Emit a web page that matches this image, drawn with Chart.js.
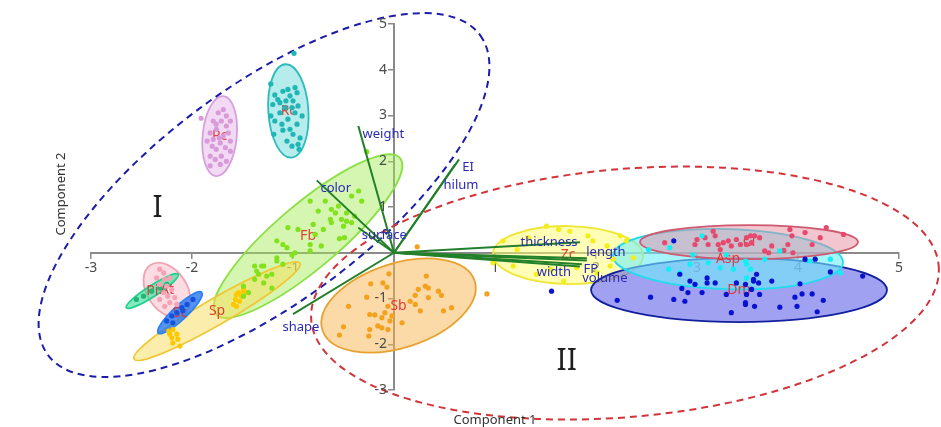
<!DOCTYPE html>
<html>
<head>
<meta charset="utf-8">
<script src="https://cdn.jsdelivr.net/npm/chart.js@4/dist/chart.umd.min.js"></script>
<style>
  html, body { margin: 0; padding: 0; background: #fff; }
  #wrap { width: 941px; height: 427px; }
</style>
</head>
<body>
<div id="wrap"><canvas id="biplot" width="941" height="427"></canvas></div>
<script>
// ---- axes ----
const xTicks = [-3, -2, -1, 0, 1, 2, 3, 4, 5];
const xTickLabels = ['-3', '-2', '-1', '', '1', '2', '3', '4', '5'];
const yTicks = [-3, -2, -1, 0, 1, 2, 3, 4, 5];
const yTickLabels = ['-3', '-2', '-1', '', '1', '2', '3', '4', '5'];
const axisTitles = ['Component 1', 'Component 2'];

// ---- species scores (Component 1, Component 2) ----
const pointsPc = [[-1.91,2.94],[-1.69,3.13],[-1.74,3.06],[-1.66,2.99],[-1.79,2.88],[-1.71,2.88],[-1.62,2.88],[-1.66,2.77],[-1.76,2.70],[-1.82,2.62],[-1.64,2.62],[-1.69,2.55],[-1.79,2.48],[-1.62,2.44],[-1.72,2.40],[-1.80,2.33],[-1.67,2.30],[-1.76,2.26],[-1.62,2.22],[-1.82,2.11],[-1.71,2.11],[-1.77,2.04],[-1.66,2.00],[-1.82,1.90],[-1.72,1.93],[-1.73,2.51],[-1.85,2.44],[-1.76,2.81]];
const pointsRc = [[-0.99,4.36],[-1.22,3.69],[-1.18,3.45],[-1.10,3.53],[-1.05,3.57],[-0.98,3.61],[-0.96,3.50],[-1.03,3.43],[-1.00,3.32],[-1.07,3.32],[-1.13,3.28],[-1.20,3.24],[-0.95,3.21],[-1.08,3.17],[-1.13,3.06],[-0.98,3.06],[-0.91,2.99],[-1.05,2.92],[-1.18,2.88],[-1.11,2.81],[-0.96,2.81],[-1.03,2.70],[-1.10,2.68],[-1.19,2.59],[-1.00,2.59],[-0.93,2.51],[-1.06,2.44],[-0.95,2.37],[-1.01,2.33],[-0.94,2.26],[-1.22,2.99],[-1.15,3.35],[-1.01,3.17]];
const pointsFb = [[-0.35,1.35],[-0.42,1.24],[-0.32,1.13],[-0.68,1.13],[-0.83,1.13],[-0.55,1.02],[-0.62,0.95],[-0.58,0.87],[-0.75,0.91],[-0.47,0.87],[-0.39,0.80],[-0.63,0.73],[-0.62,0.66],[-0.52,0.73],[-0.42,0.66],[-0.80,0.62],[-0.50,0.58],[-1.05,0.55],[-0.95,0.51],[-0.70,0.51],[-0.78,0.40],[-0.49,0.33],[-0.54,0.31],[-1.16,0.26],[-1.10,0.18],[-0.72,0.15],[-0.83,0.18],[-1.06,0.11],[-0.83,0.04],[-0.98,0.00],[-1.16,-0.11],[-1.38,-0.29],[-1.29,-0.29],[-1.21,-0.47],[-1.34,-0.47],[-1.29,-0.66],[-1.21,-0.77],[-1.38,-0.58],[-0.47,0.69],[-1.16,-0.18],[-1.10,-0.25],[-1.31,-0.29],[-1.36,-0.40],[-1.26,-0.51],[-1.49,-0.73],[-1.44,-0.87],[-1.49,-0.95],[-0.27,2.21],[-1.01,-0.05]];
const pointsAt = [[-2.32,-0.36],[-2.28,-0.44],[-2.35,-0.55],[-2.27,-0.58],[-2.22,-0.55],[-2.32,-0.69],[-2.25,-0.73],[-2.20,-0.80],[-2.28,-0.87],[-2.24,-0.95],[-2.17,-0.98],[-2.32,-1.02],[-2.22,-1.09],[-2.15,-1.13],[-2.27,-1.17]];
const pointsPi = [[-2.55,-1.02],[-2.48,-0.95],[-2.40,-0.84],[-2.32,-0.77],[-2.25,-0.69]];
const pointsSc = [[-2.25,-1.49],[-2.20,-1.38],[-2.15,-1.31],[-2.10,-1.20],[-2.05,-1.13],[-1.99,-1.02],[-2.19,-1.53],[-2.09,-1.27]];
const pointsSp = [[-2.23,-1.71],[-2.19,-1.68],[-2.15,-1.78],[-2.20,-1.86],[-2.14,-1.89],[-2.19,-1.97],[-2.12,-2.04],[-2.22,-1.78],[-1.54,-0.87],[-1.51,-0.95],[-1.57,-1.02],[-1.53,-1.06],[-1.56,-1.17],[-1.49,-0.84],[-1.59,-1.13],[-1.56,-0.91],[-1.49,-0.80],[-1.46,-0.87]];
const pointsSb = [[0.23,0.13],[-0.05,-0.46],[0.32,-0.51],[-0.23,-0.68],[-0.11,-0.66],[-0.07,-0.75],[0.31,-0.73],[0.34,-0.77],[0.24,-0.80],[0.44,-0.84],[0.21,-0.93],[0.47,-0.93],[-0.27,-0.97],[0.34,-0.98],[0.16,-1.06],[0.21,-1.13],[-0.45,-1.17],[0.57,-1.20],[-0.06,-1.17],[0.26,-1.27],[0.49,-1.27],[-0.24,-1.35],[-0.19,-1.36],[-0.09,-1.31],[-0.02,-1.38],[-0.04,-1.49],[-0.12,-1.42],[0.08,-1.53],[-0.16,-1.60],[-0.24,-1.68],[-0.12,-1.64],[-0.06,-1.68],[-0.50,-1.62],[-0.54,-1.80],[-0.25,-1.82],[0.92,-0.90]];
const pointsZc = [[1.08,0.26],[1.22,0.07],[1.33,0.33],[1.63,0.51],[1.74,0.47],[1.92,0.37],[1.97,0.26],[2.11,0.15],[2.17,-0.14],[2.24,0.37],[2.30,0.26],[2.37,-0.11],[1.18,-0.29],[1.41,-0.47],[1.55,-0.36],[1.81,-0.33],[2.01,-0.44],[2.14,-0.29],[1.68,-0.62],[0.98,-0.22],[1.51,0.58]];
const pointsCl = [[2.68,0.22],[2.98,0.18],[3.08,0.33],[3.16,0.47],[3.18,0.37],[3.11,0.18],[3.21,0.18],[3.26,0.22],[3.31,0.26],[3.34,0.15],[3.23,0.07],[3.39,0.29],[3.43,0.18],[3.49,0.33],[3.54,0.22],[3.57,0.37],[3.00,0.29],[3.92,0.51],[3.94,0.37],[4.07,0.44],[4.22,0.33],[4.28,0.55],[4.45,0.40],[4.14,0.18],[3.90,0.18],[3.86,0.05],[3.74,0.15],[3.67,0.04],[3.62,0.33],[3.53,0.37],[3.49,0.18],[3.71,0.00],[3.95,0.00]];
const pointsAsp = [[2.52,0.07],[2.73,0.11],[2.72,-0.36],[2.83,-0.44],[2.96,-0.04],[3.11,-0.22],[3.23,-0.33],[3.29,-0.04],[3.36,-0.36],[3.48,-0.18],[3.53,-0.36],[3.05,0.37],[2.93,-0.25],[3.49,-0.25],[3.67,-0.14],[3.49,-0.55],[4.12,-0.18],[4.32,-0.14],[4.42,-0.44],[3.82,0.04]];
const pointsDm = [[2.21,-1.04],[2.54,-0.97],[2.77,-1.02],[2.88,-1.06],[2.85,-0.78],[2.91,-0.87],[2.93,-0.62],[2.98,-0.69],[3.05,-0.87],[3.10,-0.55],[3.10,-0.66],[3.18,-0.66],[2.83,-0.47],[3.29,-0.91],[3.34,-1.31],[3.39,-0.66],[3.49,-0.91],[3.54,-0.80],[3.56,-0.58],[3.48,-1.09],[3.57,-1.17],[2.77,0.26],[3.48,-0.69],[3.56,-0.62],[3.59,-0.47],[3.61,-0.66],[3.54,-0.80],[3.62,-0.91],[3.74,-0.62],[3.48,-1.13],[3.82,-1.19],[3.97,-0.97],[4.04,-0.90],[4.02,-0.68],[4.14,-0.90],[4.25,-1.04],[3.99,-1.17],[4.19,-1.29],[4.32,-0.42],[4.07,-0.14],[4.17,-0.14],[4.64,-0.51],[1.56,-0.84]];

// ---- 95% ellipses: centre, and two conjugate semi-axes (in axis units) ----
const groupNames = ['Fb', 'Sp', 'At', 'Pi', 'Sc', 'Pc', 'Rc', 'Sb', 'Zc', 'Dm', 'Asp', 'Cl'];
const ellipseCenter = [[-0.851,0.365],[-1.752,-1.276],[-2.248,-0.815],[-2.393,-0.837],[-2.119,-1.311],[-1.726,2.55],[-1.046,3.10],[0.045,-1.154],[1.723,-0.05],[3.416,-0.816],[3.307,-0.138],[3.515,0.234]];
const ellipseAxisA = [[0.911,1.705],[0.822,1.049],[0.163,-0.546],[0.257,0.365],[0.215,0.444],[0.037,0.874],[-0.03,1.02],[0.753,0.540],[0.743,-0.02],[1.465,0],[1.139,-0.077],[1.079,0]];
const ellipseAxisB = [[0.205,-0.533],[0.064,-0.247],[0.165,0.240],[0.030,-0.101],[0.0475,-0.111],[0.168,-0.035],[0.198,0.028],[0.129,-0.874],[0,-0.634],[0,-0.70],[-0.009,-0.656],[0,-0.372]];

// ---- cluster regions I and II ----
const regionNames = ['I', 'II'];
const regionCenter = [[-1.287,1.261],[2.287,-0.881]];
const regionAxisA = [[2.139,3.497],[3.106,0.599]];
const regionAxisB = [[0.637,-1.895],[0.107,-2.699]];
const regionLabelAt = [[-2.34,0.96],[1.71,-2.37]];

// ---- trait loadings ----
const loadingNames = ['weight', 'EI', 'hilum', 'color', 'surface', 'thickness', 'length', 'FP', 'width', 'volume', 'shape'];
const loadingX = [-0.353, 0.644, 0.604, -0.765, -0.353, 1.842, 1.91, 1.91, 1.84, 1.86, -1.0];
const loadingY = [2.77, 2.04, 1.93, 1.582, 0.547, 0.228, -0.12, -0.17, -0.30, -0.25, -1.34];

// ---- styling ----
const FONT = '"Noto Sans", "Open Sans", "DejaVu Sans", sans-serif';
const groupStyle = {
  Pc:  { pt: '#d99ad9', fill: 'rgba(232,188,236,0.55)', line: '#d6a0dc' },
  Rc:  { pt: '#1fb6b6', fill: 'rgba(110,218,218,0.5)',  line: '#2cbcbc' },
  Fb:  { pt: '#84e21c', fill: 'rgba(160,235,80,0.45)',  line: '#8cdf44' },
  At:  { pt: '#f6a2b6', fill: 'rgba(248,192,204,0.55)', line: '#eea4b4' },
  Pi:  { pt: '#1fb877', fill: 'rgba(50,220,150,0.6)',   line: '#22cf8d' },
  Sc:  { pt: '#1552dc', fill: 'rgba(40,120,240,0.8)',   line: '#2c80f2' },
  Sp:  { pt: '#ffc800', fill: 'rgba(248,222,90,0.5)',   line: '#efc83a' },
  Sb:  { pt: '#f2a21e', fill: 'rgba(250,182,80,0.5)',   line: '#e7a232' },
  Zc:  { pt: '#f4ee1c', fill: 'rgba(255,255,110,0.5)',  line: '#efe634' },
  Dm:  { pt: '#0a12d2', fill: 'rgba(110,110,235,0.65)', line: '#12209e' },
  Asp: { pt: '#12eef2', fill: 'rgba(110,236,250,0.6)',  line: '#22dcee' },
  Cl:  { pt: '#e6486e', fill: 'rgba(230,140,160,0.5)',  line: '#cf5a70' }
};
const groupPoints = { Pc: pointsPc, Rc: pointsRc, Fb: pointsFb, At: pointsAt, Pi: pointsPi, Sc: pointsSc,
                      Sp: pointsSp, Sb: pointsSb, Zc: pointsZc, Dm: pointsDm, Asp: pointsAsp, Cl: pointsCl };
const regionColors = ['#1c1caa', '#d3343a'];
const loadingLabelShift = [[25,8],[9,8],[6,21],[19,8],[26,8],[-31,0],[19,-6],[4,9],[-26,6],[23,14],[8,13]];

// trace an ellipse given its centre and two conjugate semi-axes, through the chart scales
function traceEllipse(ctx, xs, ys, c, a, b) {
  const cx = xs.getPixelForValue(c[0]), cy = ys.getPixelForValue(c[1]);
  const ax = xs.getPixelForValue(c[0] + a[0]) - cx, ay = ys.getPixelForValue(c[1] + a[1]) - cy;
  const bx = xs.getPixelForValue(c[0] + b[0]) - cx, by = ys.getPixelForValue(c[1] + b[1]) - cy;
  ctx.save();
  ctx.beginPath();
  ctx.transform(ax, ay, bx, by, cx, cy);
  ctx.arc(0, 0, 1, 0, Math.PI * 2);
  ctx.closePath();
  ctx.restore();
}

const biplotLayers = {
  id: 'biplotLayers',
  beforeDatasetsDraw(chart) {
    const { ctx, scales: { x, y } } = chart;
    ctx.save();
    // confidence ellipses
    ctx.lineWidth = 1.8;
    groupNames.forEach((g, i) => {
      traceEllipse(ctx, x, y, ellipseCenter[i], ellipseAxisA[i], ellipseAxisB[i]);
      ctx.fillStyle = groupStyle[g].fill;
      ctx.strokeStyle = groupStyle[g].line;
      ctx.fill();
      ctx.stroke();
    });
    // group names at the ellipse centres
    ctx.font = '14px ' + FONT;
    ctx.fillStyle = 'rgba(226,44,40,0.9)';
    ctx.textAlign = 'center';
    ctx.textBaseline = 'middle';
    groupNames.forEach((g, i) => {
      ctx.fillText(g, x.getPixelForValue(ellipseCenter[i][0]), y.getPixelForValue(ellipseCenter[i][1]));
    });
    // dashed cluster outlines
    ctx.lineWidth = 2;
    ctx.setLineDash([7, 5]);
    regionNames.forEach((r, i) => {
      traceEllipse(ctx, x, y, regionCenter[i], regionAxisA[i], regionAxisB[i]);
      ctx.strokeStyle = regionColors[i];
      ctx.stroke();
    });
    ctx.restore();
  },
  afterDatasetsDraw(chart) {
    const { ctx, scales: { x, y }, chartArea } = chart;
    ctx.save();
    // y tick labels, left of the tick marks
    ctx.font = '14px ' + FONT;
    ctx.fillStyle = '#4a4a4a';
    ctx.textAlign = 'right';
    ctx.textBaseline = 'middle';
    const yAxisPx = x.getPixelForValue(0);
    yTicks.forEach((v, i) => {
      ctx.fillText(yTickLabels[i], yAxisPx - 7, y.getPixelForValue(v));
    });
    ctx.textAlign = 'center';
    // trait names at the loading tips
    ctx.font = '13px ' + FONT;
    ctx.fillStyle = '#2a2ab6';
    loadingNames.forEach((n, i) => {
      ctx.fillText(n, x.getPixelForValue(loadingX[i]) + loadingLabelShift[i][0],
                      y.getPixelForValue(loadingY[i]) + loadingLabelShift[i][1]);
    });
    // cluster numerals
    ctx.font = '30px ' + FONT;
    ctx.fillStyle = '#1e1e1e';
    regionNames.forEach((r, i) => {
      ctx.fillText(r, x.getPixelForValue(regionLabelAt[i][0]), y.getPixelForValue(regionLabelAt[i][1]));
    });
    // axis titles
    ctx.font = '13px ' + FONT;
    ctx.fillStyle = '#333';
    ctx.fillText(axisTitles[0], (chartArea.left + chartArea.right) / 2, 420);
    ctx.translate(61, 194);
    ctx.rotate(-Math.PI / 2);
    ctx.fillText(axisTitles[1], 0, 0);
    ctx.restore();
  }
};

const datasets = [];
loadingNames.forEach((n, i) => {
  datasets.push({
    label: n,
    data: [{ x: 0, y: 0 }, { x: loadingX[i], y: loadingY[i] }],
    showLine: true,
    borderColor: '#23802a',
    borderWidth: 2,
    pointRadius: 0,
    order: 0,
    clip: false
  });
});
groupNames.forEach(g => {
  datasets.push({
    label: g,
    data: groupPoints[g].map(p => ({ x: p[0], y: p[1] })),
    backgroundColor: groupStyle[g].pt,
    borderWidth: 0,
    pointRadius: 2.6,
    order: 1,
    clip: false
  });
});

new Chart(document.getElementById('biplot'), {
  type: 'scatter',
  data: { datasets },
  plugins: [biplotLayers],
  options: {
    responsive: false,
    animation: false,
    devicePixelRatio: 1,
    layout: { padding: { left: 91, right: 42, top: 24, bottom: 37 } },
    plugins: { legend: { display: false }, tooltip: { enabled: false } },
    scales: {
      x: {
        type: 'linear', min: -3, max: 5,
        position: { y: 0 },
        afterBuildTicks: s => { s.ticks = xTicks.map(v => ({ value: v })); },
        ticks: { callback: (v, i) => xTickLabels[i], color: '#4a4a4a', font: { size: 14, family: FONT }, padding: 2, maxRotation: 0, autoSkip: false },
        grid: { drawOnChartArea: false, drawTicks: true, tickLength: 5, lineWidth: 1.5,
                color: c => (c.tick && c.tick.value === 0) ? 'rgba(0,0,0,0)' : '#8a8a8a' },
        border: { display: true, color: '#8a8a8a', width: 2 }
      },
      y: {
        type: 'linear', min: -3, max: 5,
        position: { x: 0 },
        afterBuildTicks: s => { s.ticks = yTicks.map(v => ({ value: v })); },
        ticks: { display: false },
        grid: { drawOnChartArea: false, drawTicks: true, tickLength: 5, lineWidth: 1.5,
                color: c => (c.tick && c.tick.value === 0) ? 'rgba(0,0,0,0)' : '#8a8a8a' },
        border: { display: true, color: '#8a8a8a', width: 2 }
      }
    }
  }
});
</script>
</body>
</html>
